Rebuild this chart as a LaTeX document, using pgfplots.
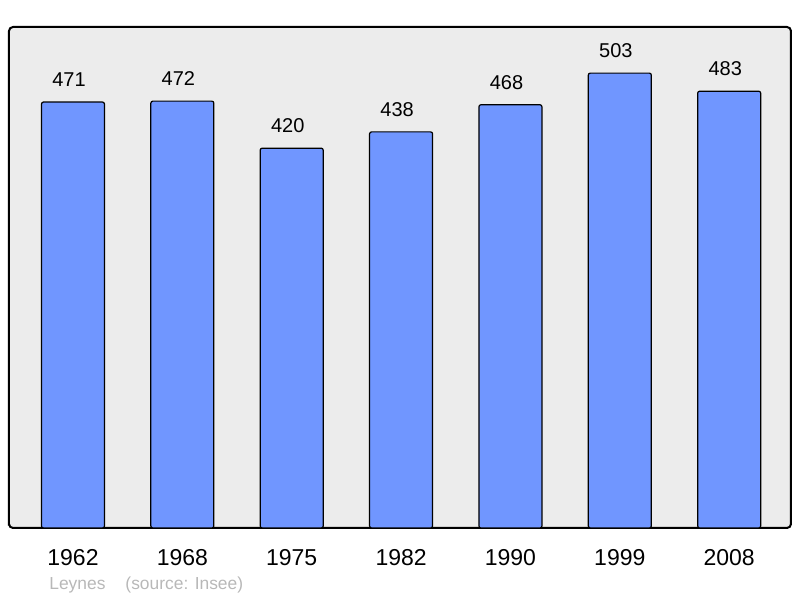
\documentclass[border=0pt]{standalone}
\usepackage{fontspec}
\setmainfont{Liberation Sans}
\usepackage{pgfplots}
\pgfplotsset{compat=1.18}
\definecolor{bgray}{HTML}{ECECEC}
\definecolor{barblue}{HTML}{7096FF}
\definecolor{notegray}{HTML}{B8B8B8}

\begin{document}
\begin{tikzpicture}
\path[use as bounding box] (-4.5pt,-35pt) rectangle (395.5pt,264pt);
\begin{axis}[
    at={(0,0)}, anchor=south west,
    scale only axis,
    width=391pt, height=250.5pt,
    xmin=-0.585, xmax=6.565,
    ymin=0, ymax=554,
    axis background/.style={fill=bgray},
    axis line style={line width=1pt, rounded corners=2pt},
    ytick=\empty,
    xtick=data,
    xticklabels={1962,1968,1975,1982,1990,1999,2008},
    xtick style={draw=none},
    xticklabel style={font=\fontsize{11.5}{13}\selectfont, yshift=-3pt},
    /pgf/number format/assume math mode=true,
    ybar, bar width=31.5pt,
    nodes near coords,
    every node near coord/.append style={font=\fontsize{10}{12}\selectfont, yshift=4pt, xshift=-2pt},
]
\addplot[fill=barblue, draw=black, line width=0.6pt, rounded corners=1pt]
  coordinates {(0,471) (1,472) (2,420) (3,438) (4,468) (5,503) (6,483)};
\end{axis}
\node[anchor=base west, text=notegray, font=\fontsize{8.7}{10}\selectfont, inner sep=0pt]
  at (20pt,-31pt) {Leynes\hspace{10pt}(source: Insee)};
\end{tikzpicture}
\end{document}
